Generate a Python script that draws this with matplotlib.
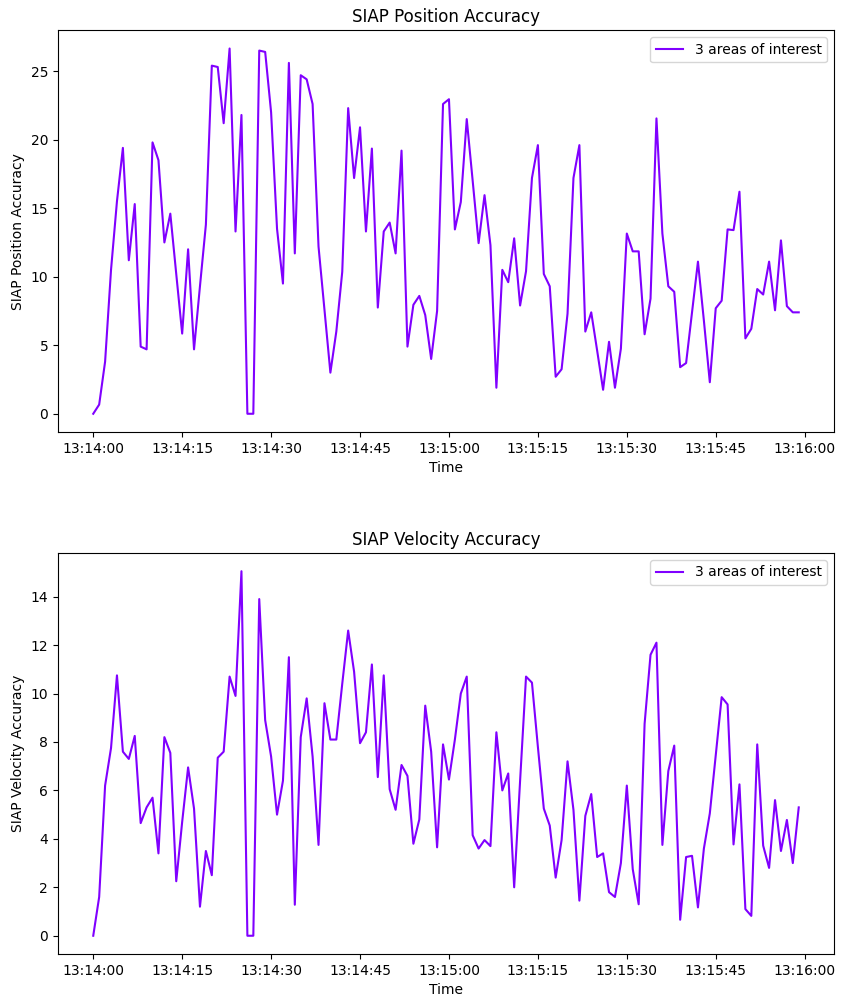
import numpy as np
import pandas as pd
import matplotlib
matplotlib.use("Agg")
import matplotlib.pyplot as plt
import matplotlib.dates as mdates

times = pd.date_range("2023-01-01 13:14:00", periods=120, freq="s")

position_accuracy = [
    0.0, 0.67, 3.8, 10.5, 15.5, 19.4, 11.2, 15.3, 4.9, 4.7,
    19.8, 18.5, 12.5, 14.6, 10.2, 5.85, 12.0, 4.7, 9.3, 13.8,
    25.4, 25.3, 21.2, 26.65, 13.3, 21.8, 0.0, 0.0, 26.5, 26.4,
    22.0, 13.5, 9.5, 25.6, 11.7, 24.7, 24.4, 22.6, 12.2, 7.6,
    3.0, 6.0, 10.35, 22.3, 17.2, 20.9, 13.3, 19.35, 7.75, 13.3,
    13.95, 11.7, 19.2, 4.9, 7.95, 8.6, 7.2, 4.0, 7.5, 22.6,
    22.95, 13.45, 15.45, 21.5, 17.0, 12.45, 15.95, 12.3, 1.9, 10.5,
    9.6, 12.8, 7.9, 10.4, 17.2, 19.6, 10.2, 9.3, 2.7, 3.25,
    7.3, 17.2, 19.6, 6.0, 7.4, 4.6, 1.75, 5.25, 1.9, 4.75,
    13.15, 11.85, 11.85, 5.8, 8.4, 21.55, 13.15, 9.3, 8.9, 3.4,
    3.7, 7.4, 11.1, 6.8, 2.3, 7.7, 8.25, 13.45, 13.4, 16.2,
    5.5, 6.2, 9.1, 8.7, 11.1, 7.55, 12.65, 7.85, 7.4, 7.4,
]

velocity_accuracy = [
    0.0, 1.6, 6.2, 7.75, 10.75, 7.6, 7.3, 8.25, 4.65, 5.3,
    5.7, 3.4, 8.2, 7.55, 2.25, 4.7, 6.95, 5.25, 1.2, 3.5,
    2.5, 7.35, 7.6, 10.7, 9.9, 15.05, 0.0, 0.0, 13.9, 8.9,
    7.4, 5.0, 6.4, 11.5, 1.28, 8.2, 9.8, 7.4, 3.75, 9.6,
    8.1, 8.1, 10.4, 12.6, 10.9, 7.95, 8.4, 11.2, 6.55, 10.75,
    6.05, 5.2, 7.05, 6.6, 3.8, 4.8, 9.5, 7.6, 3.65, 7.9,
    6.45, 8.1, 10.0, 10.7, 4.15, 3.6, 3.95, 3.7, 8.4, 6.0,
    6.7, 2.0, 6.4, 10.7, 10.45, 7.8, 5.25, 4.55, 2.4, 3.95,
    7.2, 5.2, 1.45, 4.95, 5.85, 3.25, 3.4, 1.8, 1.6, 3.0,
    6.2, 2.75, 1.3, 8.75, 11.6, 12.1, 3.75, 6.8, 7.85, 0.66,
    3.25, 3.3, 1.17, 3.6, 5.05, 7.45, 9.85, 9.55, 3.77, 6.25,
    1.1, 0.82, 7.9, 3.72, 2.8, 5.6, 3.5, 4.78, 3.0, 5.3,
]

series_label = "3 areas of interest"
line_color = "#8000ff"

fig = plt.figure(figsize=(8.45, 10.08), dpi=100)
ax1 = fig.add_axes([0.0686, 0.5714, 0.9184, 0.3986])
ax2 = fig.add_axes([0.0686, 0.0536, 0.9184, 0.3978])

panels = [
    (ax1, position_accuracy, "SIAP Position Accuracy"),
    (ax2, velocity_accuracy, "SIAP Velocity Accuracy"),
]

for ax, values, name in panels:
    ax.plot(times, values, color=line_color, label=series_label, linewidth=1.5)
    ax.set_title(name)
    ax.set_ylabel(name)
    ax.set_xlabel("Time")
    ax.xaxis.set_major_locator(mdates.SecondLocator(bysecond=[0, 15, 30, 45]))
    ax.xaxis.set_major_formatter(mdates.DateFormatter("%H:%M:%S"))
    ax.legend(loc="upper right")

ax1.set_yticks([0, 5, 10, 15, 20, 25])
ax2.set_yticks([0, 2, 4, 6, 8, 10, 12, 14])

fig.savefig("out.png", dpi=100)
